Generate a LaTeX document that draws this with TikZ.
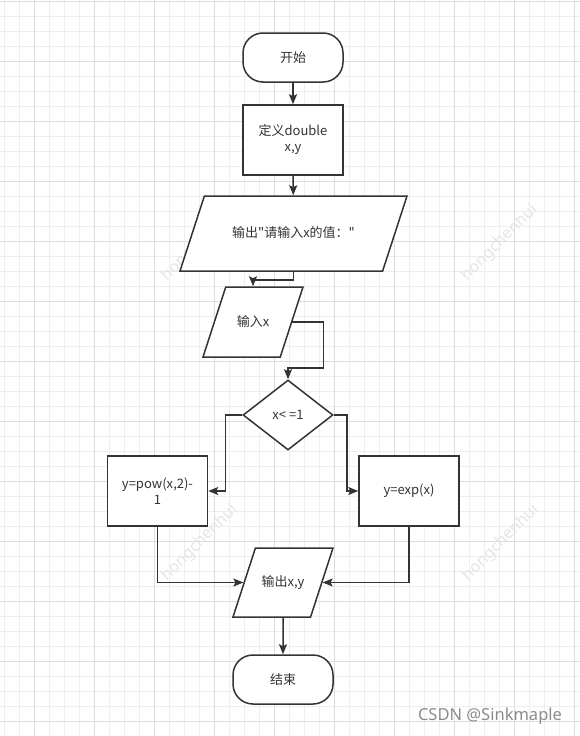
\documentclass[tikz,border=0pt]{standalone}
\usepackage{fontspec}
\newfontfamily\cjk{Noto Sans CJK SC}
\newfontfamily\wmfont{Noto Sans}
\usetikzlibrary{arrows.meta,calc,positioning,shapes.geometric}
\definecolor{linegray}{HTML}{333333}
\definecolor{gridminor}{HTML}{EEEEEE}
\definecolor{gridmajor}{HTML}{DDDDDD}
\tikzset{
  box/.style={draw=linegray,line width=1.5pt,fill=white,minimum width=100pt,
    minimum height=70pt,align=center,text=linegray,inner sep=2pt,
    font=\cjk\fontsize{13}{16}\selectfont},
  terminal/.style={box,rounded corners=20pt,minimum height=49pt},
  io/.style={box,trapezium,trapezium left angle=72,trapezium right angle=108,
    trapezium stretches body,inner xsep=0pt,text height=10.5pt,text depth=2.5pt,
    minimum height=0pt},
  decision/.style={box,diamond,minimum width=90pt,minimum height=70pt,inner sep=0pt},
  flow/.style={draw=linegray,line width=1.5pt,-{Stealth[length=10pt,width=8pt,inset=2pt]}},
  wm/.style={text=gray!20,font=\wmfont\fontsize{16}{16}\selectfont,rotate=45}
}
\begin{document}
\begin{tikzpicture}[x=1pt,y=-1pt]
    \useasboundingbox (0,0) rectangle (580,736);
    \fill[white] (0,0) rectangle (580,736);
    % 背景网格
    \foreach \x in {4,19,...,574} \draw[gridminor,line width=0.9pt] (\x,0) -- (\x,736);
    \foreach \y in {1,16,...,736} \draw[gridminor,line width=0.9pt] (0,\y) -- (580,\y);
    \foreach \x in {34,94,...,574} \draw[gridmajor,line width=0.9pt] (\x,0) -- (\x,736);
    \foreach \y in {1,61,...,736} \draw[gridmajor,line width=0.9pt] (0,\y) -- (580,\y);
    % 水印
    \node[wm] (wm1) at (200,243) {hongchenhui};
    \node[wm] (wm2) at (500,243) {hongchenhui};
    \node[wm] (wm3) at (200,543) {hongchenhui};
    \node[wm] (wm4) at (501,543) {hongchenhui};
    \node[text=black!45,font=\wmfont\fontsize{16.5}{16.5}\selectfont] (mark) at (490,716) {CSDN @Sinkmaple};
    % 流程图各框
    \node[terminal] (start) at (293,57.5) {开始};
    \node[box] (define) at (293,140) {定义double\\x,y};
    \node[io,minimum width=227pt,inner ysep=31pt] (out1) at (293.5,233.5) {输出"请输入x的值："};
    \node[io,inner ysep=28.5pt] (in) at (253,322) {输入x};
    \node[decision] (cond) at (288,415) {x< =1};
    \node[box] (left) at (157.5,491) {y=pow(x,2)-\\1};
    \node[box] (right) at (409,491) {y=exp(x)};
    \node[io,inner ysep=28pt] (out2) at (283,582.5) {输出x,y};
    \node[terminal] (stop) at (283,679.5) {结束};
    % 连线
    \draw[flow] (start) -- (define);
    \draw[flow] (define) -- (out1);
    \draw[flow] (out1.south) -- ++(0,8) -| (in.north);
    \draw[flow] (in.east) -- ++(31,0) -- ++(0,46) -| (cond.north);
    \draw[flow] (cond.west) -- ++(-17,0) |- (left.east);
    \draw[flow] (cond.east) -- ++(13,0) |- (right.west);
    \draw[flow] (left.south) |- (out2.west);
    \draw[flow] (right.south) |- (out2.east);
    \draw[flow] (out2) -- (stop);
\end{tikzpicture}
\end{document}
